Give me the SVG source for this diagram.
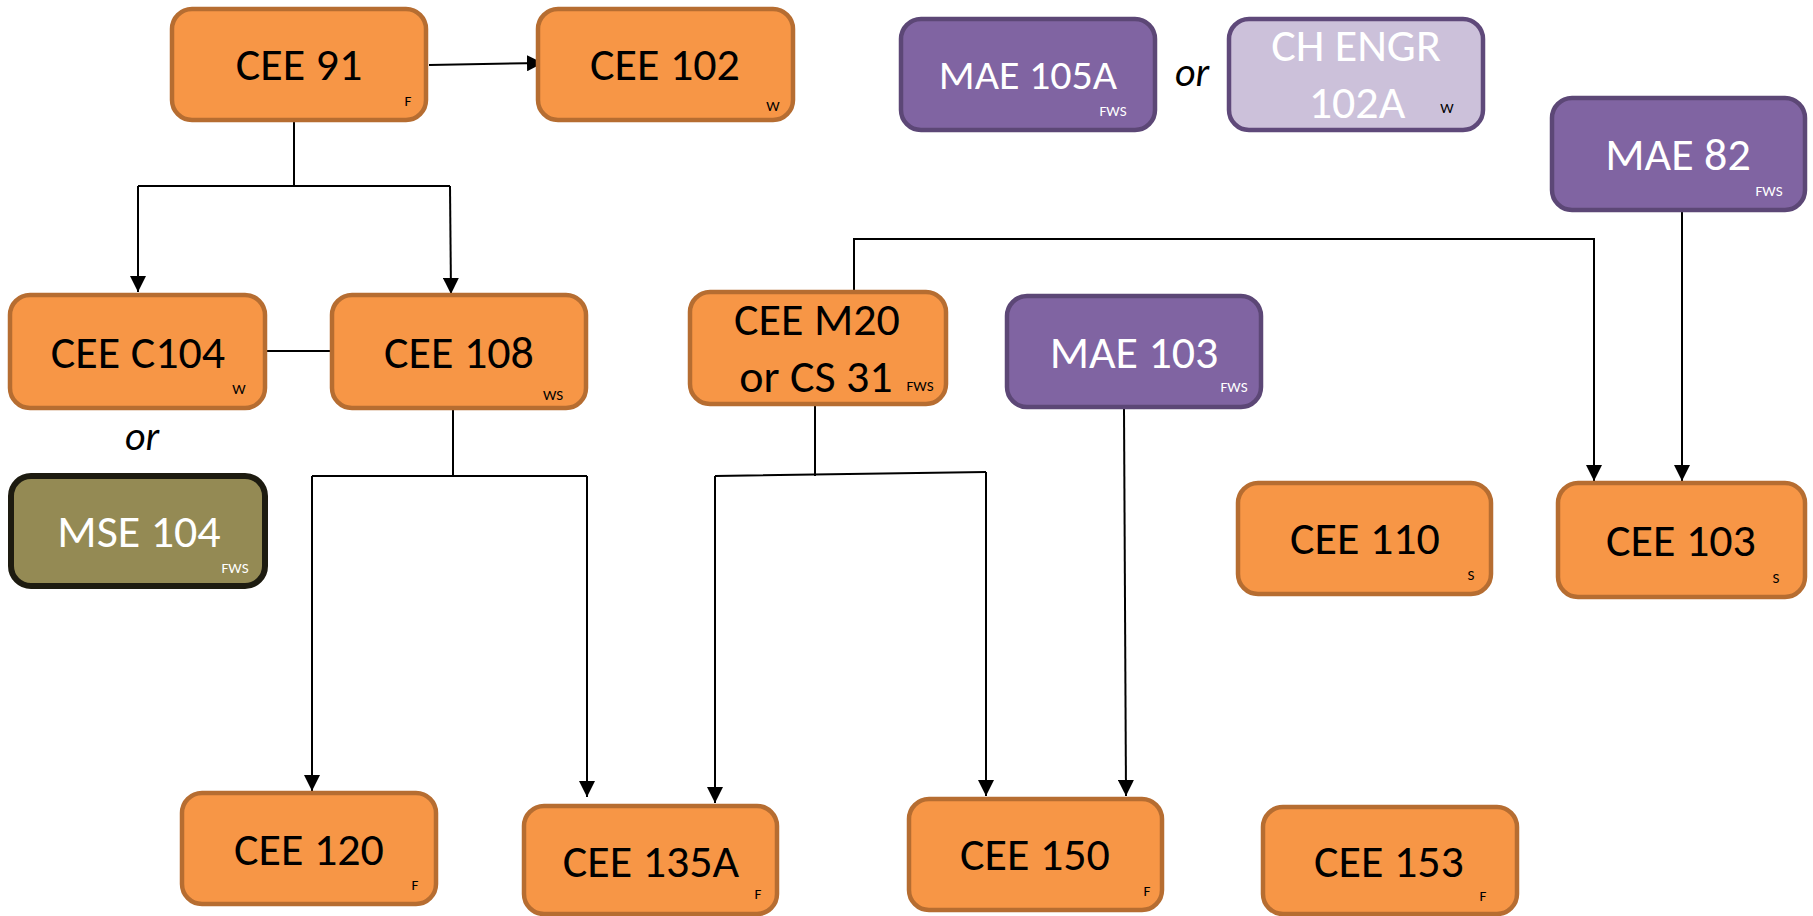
<svg xmlns="http://www.w3.org/2000/svg" width="1813" height="916" viewBox="0 0 1813 916">
<style>
  .bg { fill: #ffffff; }
  .org { fill: #F79646; stroke: #B66D31; stroke-width: 4.5; }
  .pur { fill: #8064A2; stroke: #5C4776; stroke-width: 4.5; }
  .lav { fill: #CCC1DA; stroke: #5F497A; stroke-width: 4.5; }
  .olv { fill: #948A54; stroke: #1D1B10; stroke-width: 6; }
  text { font-family: Carlito, "Liberation Sans Narrow", "Liberation Sans", sans-serif; }
  .big { font-size: 46px; text-anchor: middle; }
  .mid { font-size: 42px; text-anchor: middle; }
  .sm { font-size: 15px; text-anchor: middle; }
  .k { fill: #000000; }
  .w { fill: #ffffff; }
  .or { font-size: 40px; font-style: italic; text-anchor: middle; fill: #000000; }
  .ln { fill: none; stroke: #000000; stroke-width: 2; }
</style>
<defs>
  <marker id="arr" viewBox="0 0 16 16" refX="16" refY="8" markerWidth="16" markerHeight="16" markerUnits="userSpaceOnUse" orient="auto">
    <path d="M0,0 L16,8 L0,16 Z" fill="#000000"/>
  </marker>
</defs>
<rect class="bg" x="0" y="0" width="1813" height="916"/>

<g id="connectors">
  <path class="ln" d="M429,65 L543,63" marker-end="url(#arr)"/>
  <path class="ln" d="M294,122 L294,186 M138,186 L450,186"/>
  <path class="ln" d="M138,186 L138,292" marker-end="url(#arr)"/>
  <path class="ln" d="M450,186 L451,294" marker-end="url(#arr)"/>
  <path class="ln" d="M267,351 L330,351"/>
  <path class="ln" d="M453,410 L453,476 M312,476 L587,476"/>
  <path class="ln" d="M312,476 L312,791" marker-end="url(#arr)"/>
  <path class="ln" d="M587,476 L587,797" marker-end="url(#arr)"/>
  <path class="ln" d="M815,406 L815,476 M715,476 L986,472"/>
  <path class="ln" d="M715,476 L715,803" marker-end="url(#arr)"/>
  <path class="ln" d="M986,472 L986,796" marker-end="url(#arr)"/>
  <path class="ln" d="M854,290 L854,239 L1594,239 L1594,481" marker-end="url(#arr)"/>
  <path class="ln" d="M1682,212 L1682,481" marker-end="url(#arr)"/>
  <path class="ln" d="M1124,409 L1126,796" marker-end="url(#arr)"/>
</g>

<g id="cee91">
  <rect class="org" x="172" y="9" width="254" height="111" rx="20"/>
  <text class="big k" x="299" y="80">CEE 91</text>
  <text class="sm k" x="408" y="106">F</text>
</g>
<g id="cee102">
  <rect class="org" x="538" y="9" width="255" height="111" rx="20"/>
  <text class="big k" x="665" y="80">CEE 102</text>
  <text class="sm k" x="773" y="111">W</text>
</g>
<g id="mae105a">
  <rect class="pur" x="901" y="19" width="254" height="111" rx="20"/>
  <text class="mid w" x="1028" y="89">MAE 105A</text>
  <text class="sm w" x="1113" y="116">FWS</text>
</g>
<text class="or" x="1192" y="86">or</text>
<g id="cheng102a">
  <rect class="lav" x="1229" y="19" width="254" height="111" rx="20"/>
  <text class="big w" x="1356" y="61">CH ENGR</text>
  <text class="big w" x="1357" y="118">102A</text>
  <text class="sm k" x="1447" y="113">W</text>
</g>
<g id="mae82">
  <rect class="pur" x="1552" y="98" width="253" height="112" rx="20"/>
  <text class="big w" x="1678" y="170">MAE 82</text>
  <text class="sm w" x="1769" y="196">FWS</text>
</g>
<g id="ceec104">
  <rect class="org" x="10" y="295" width="255" height="113" rx="20"/>
  <text class="big k" x="138" y="368">CEE C104</text>
  <text class="sm k" x="239" y="394">W</text>
</g>
<text class="or" x="142" y="450">or</text>
<g id="cee108">
  <rect class="org" x="332" y="295" width="254" height="113" rx="20"/>
  <text class="big k" x="459" y="368">CEE 108</text>
  <text class="sm k" x="553" y="400">WS</text>
</g>
<g id="ceem20">
  <rect class="org" x="690" y="292" width="256" height="112" rx="20"/>
  <text class="big k" x="817" y="335">CEE M20</text>
  <text class="big k" x="816" y="392">or CS 31</text>
  <text class="sm k" x="920" y="391">FWS</text>
</g>
<g id="mae103">
  <rect class="pur" x="1007" y="296" width="254" height="111" rx="20"/>
  <text class="big w" x="1134" y="368">MAE 103</text>
  <text class="sm w" x="1234" y="392">FWS</text>
</g>
<g id="mse104">
  <rect class="olv" x="11" y="476" width="254" height="110" rx="20"/>
  <text class="big w" x="139" y="547">MSE 104</text>
  <text class="sm w" x="235" y="573">FWS</text>
</g>
<g id="cee110">
  <rect class="org" x="1238" y="483" width="253" height="111" rx="20"/>
  <text class="big k" x="1365" y="554">CEE 110</text>
  <text class="sm k" x="1471" y="580">S</text>
</g>
<g id="cee103">
  <rect class="org" x="1558" y="483" width="247" height="114" rx="20"/>
  <text class="big k" x="1681" y="556">CEE 103</text>
  <text class="sm k" x="1776" y="583">S</text>
</g>
<g id="cee120">
  <rect class="org" x="182" y="793" width="254" height="111" rx="20"/>
  <text class="big k" x="309" y="865">CEE 120</text>
  <text class="sm k" x="415" y="890">F</text>
</g>
<g id="cee135a">
  <rect class="org" x="524" y="806" width="253" height="108" rx="20"/>
  <text class="big k" x="651" y="877">CEE 135A</text>
  <text class="sm k" x="758" y="899">F</text>
</g>
<g id="cee150">
  <rect class="org" x="909" y="799" width="253" height="111" rx="20"/>
  <text class="big k" x="1035" y="870">CEE 150</text>
  <text class="sm k" x="1147" y="896">F</text>
</g>
<g id="cee153">
  <rect class="org" x="1263" y="807" width="254" height="107" rx="20"/>
  <text class="big k" x="1389" y="877">CEE 153</text>
  <text class="sm k" x="1483" y="901">F</text>
</g>
</svg>
